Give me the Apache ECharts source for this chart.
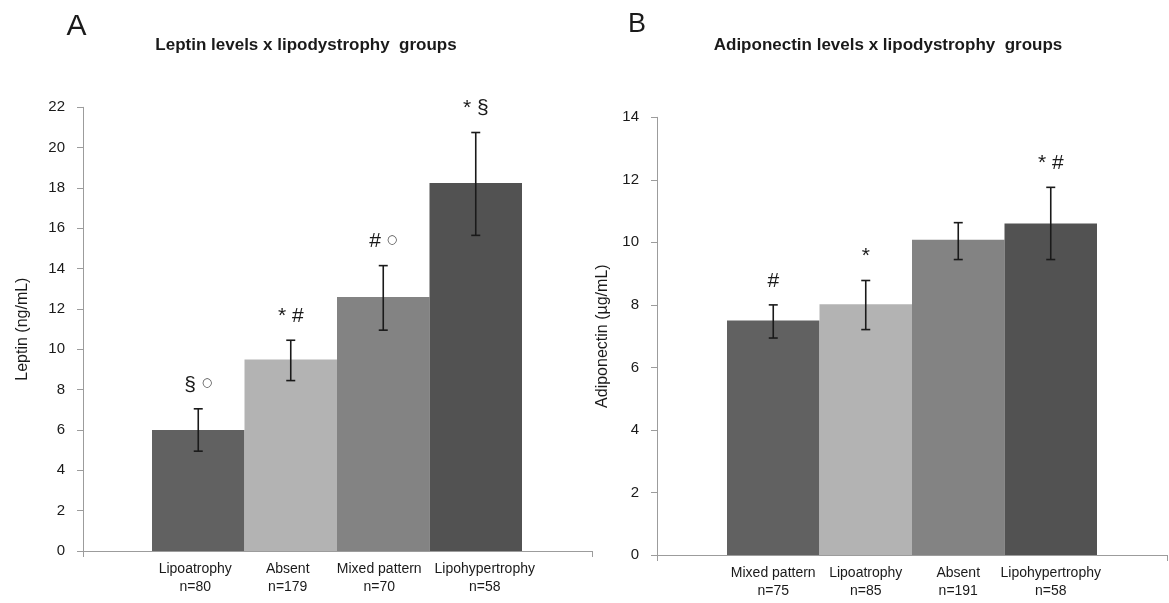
<!DOCTYPE html>
<html>
<head>
<meta charset="utf-8">
<title>Leptin / Adiponectin x lipodystrophy groups</title>
<script src="https://cdn.jsdelivr.net/npm/echarts@6/dist/echarts.min.js"></script>
<style>
  html, body { margin: 0; padding: 0; background: #fff; }
  #chart { width: 1169px; height: 603px; }
</style>
</head>
<body>
<div id="chart"></div>
<script>
// ---- data ----
// A: leptin (ng/mL)
const groupsA   = ['Lipoatrophy', 'Absent', 'Mixed pattern', 'Lipohypertrophy']
const countsA   = [80, 179, 70, 58]
const leptin    = [6.0, 9.5, 12.6, 18.25]
const leptinLo  = [4.95, 8.45, 10.95, 15.65]
const leptinHi  = [7.05, 10.45, 14.15, 20.75]
const marksA    = ['§ ○', '* #', '# ○', '* §']
const ticksA    = { min: 0, max: 22, step: 2 }

// B: adiponectin (µg/mL)
const groupsB   = ['Mixed pattern', 'Lipoatrophy', 'Absent', 'Lipohypertrophy']
const countsB   = [75, 85, 191, 58]
const adipo     = [7.5, 8.02, 10.08, 10.6]
const adipoLo   = [6.94, 7.21, 9.45, 9.45]
const adipoHi   = [8.0, 8.78, 10.63, 11.76]
const marksB    = ['#', '*', '', '* #']
const ticksB    = { min: 0, max: 14, step: 2 }

// ---- styling ----
const FONT = "'Liberation Sans', Arial, sans-serif"
const barColors = ['#616161', '#b3b3b3', '#838383', '#525252']
const axisGray = '#9c9c9c'
const ink = '#1a1a1a'
// small horizontal nudges of the category text boxes (px), like the original text boxes
const labelShiftA = [-3, -3, -4, 9]
const labelShiftB = [0, 0, 0, 0]

const el = document.getElementById('chart')
const ec = echarts.init(el, null, { renderer: 'canvas' })

function catLabels (groups, counts, shifts) {
  return groups.map((g, i) => {
    const s = shifts[i]
    return {
      value: g + '\nn=' + counts[i],
      textStyle: { padding: s >= 0 ? [0, 0, 0, 2 * s] : [0, -2 * s, 0, 0] }
    }
  })
}

function errData (lo, hi) {
  return lo.map((v, i) => [i, v, hi[i]])
}

function errRender (marks) {
  return function (params, api) {
    const i = api.value(0)
    const pHi = api.coord([i, api.value(2)])
    const pLo = api.coord([i, api.value(1)])
    const cap = 4.5
    const st = { stroke: ink, lineWidth: 1.6 }
    const kids = [
      { type: 'line', shape: { x1: pHi[0], y1: pHi[1], x2: pLo[0], y2: pLo[1] }, style: st },
      { type: 'line', shape: { x1: pHi[0] - cap, y1: pHi[1], x2: pHi[0] + cap, y2: pHi[1] }, style: st },
      { type: 'line', shape: { x1: pLo[0] - cap, y1: pLo[1], x2: pLo[0] + cap, y2: pLo[1] }, style: st }
    ]
    const m = marks[params.dataIndex]
    if (m) {
      kids.push({
        type: 'text',
        x: pHi[0],
        y: pHi[1] - 24,
        style: {
          text: m.replace(/○/g, '{c|○}'),
          align: 'center',
          verticalAlign: 'middle',
          fontSize: 21,
          fontFamily: FONT,
          fill: ink,
          rich: { c: { fontSize: 12, fontFamily: "'DejaVu Sans', sans-serif", fill: '#444', padding: [0, 0, 3, 0] } }
        }
      })
    }
    return { type: 'group', children: kids }
  }
}

function frameAxes (gridIndex, ticks, name, nameGap) {
  return {
    x: {
      gridIndex, type: 'value', min: 0, max: 1, interval: 1,
      axisLine: { show: true, lineStyle: { color: axisGray, width: 1 } },
      axisTick: { show: true, length: 6, lineStyle: { color: axisGray } },
      axisLabel: { show: false },
      splitLine: { show: false }
    },
    y: {
      gridIndex, type: 'value', min: ticks.min, max: ticks.max, interval: ticks.step,
      name, nameLocation: 'middle', nameRotate: 90, nameGap,
      nameTextStyle: { fontFamily: FONT, fontSize: 16, color: ink },
      axisLine: { show: true, lineStyle: { color: axisGray, width: 1 } },
      axisTick: { show: true, length: 6, lineStyle: { color: axisGray } },
      axisLabel: { fontFamily: FONT, fontSize: 15, color: ink, margin: 18 },
      splitLine: { show: false }
    }
  }
}

function barAxes (gridIndex, labels, ticks) {
  return {
    x: {
      gridIndex, type: 'category', data: labels,
      axisLine: { show: false }, axisTick: { show: false },
      axisLabel: { interval: 0, margin: 9, fontFamily: FONT, fontSize: 14, color: ink, lineHeight: 18 }
    },
    y: { gridIndex, type: 'value', min: ticks.min, max: ticks.max, interval: ticks.step, show: false }
  }
}

const fA = frameAxes(0, ticksA, 'Leptin (ng/mL)', 52)
const bA = barAxes(1, catLabels(groupsA, countsA, labelShiftA), ticksA)
const fB = frameAxes(2, ticksB, 'Adiponectin (µg/mL)', 46)
const bB = barAxes(3, catLabels(groupsB, countsB, labelShiftB), ticksB)

const option = {
  animation: false,
  backgroundColor: '#fff',
  grid: [
    { left: 83,  top: 107.3, width: 509, height: 443.7 },
    { left: 152, top: 107.3, width: 370, height: 443.7 },
    { left: 657, top: 117.3, width: 510, height: 437.7 },
    { left: 727, top: 117.3, width: 370, height: 437.7 }
  ],
  xAxis: [fA.x, bA.x, fB.x, bB.x],
  yAxis: [fA.y, bA.y, fB.y, bB.y],
  graphic: [
    { type: 'text', x: 76.5, y: 26.5, style: { text: 'A', fontFamily: FONT, fontSize: 30, fill: ink, align: 'center', verticalAlign: 'middle' } },
    { type: 'text', x: 637, y: 25, style: { text: 'B', fontFamily: FONT, fontSize: 27, fill: ink, align: 'center', verticalAlign: 'middle' } },
    { type: 'text', x: 306, y: 45, style: { text: 'Leptin levels x lipodystrophy  groups', fontFamily: FONT, fontSize: 17, fontWeight: 'bold', fill: ink, align: 'center', verticalAlign: 'middle' } },
    { type: 'text', x: 888, y: 45, style: { text: 'Adiponectin levels x lipodystrophy  groups', fontFamily: FONT, fontSize: 17, fontWeight: 'bold', fill: ink, align: 'center', verticalAlign: 'middle' } }
  ],
  series: [
    {
      type: 'bar', xAxisIndex: 1, yAxisIndex: 1, data: leptin,
      barCategoryGap: '0%',
      itemStyle: { color: p => barColors[p.dataIndex] }
    },
    {
      type: 'custom', xAxisIndex: 1, yAxisIndex: 1, data: errData(leptinLo, leptinHi),
      renderItem: errRender(marksA), z: 5
    },
    {
      type: 'bar', xAxisIndex: 3, yAxisIndex: 3, data: adipo,
      barCategoryGap: '0%',
      itemStyle: { color: p => barColors[p.dataIndex] }
    },
    {
      type: 'custom', xAxisIndex: 3, yAxisIndex: 3, data: errData(adipoLo, adipoHi),
      renderItem: errRender(marksB), z: 5
    }
  ]
}

ec.setOption(option)
window.addEventListener('resize', () => ec.resize())
</script>
</body>
</html>
